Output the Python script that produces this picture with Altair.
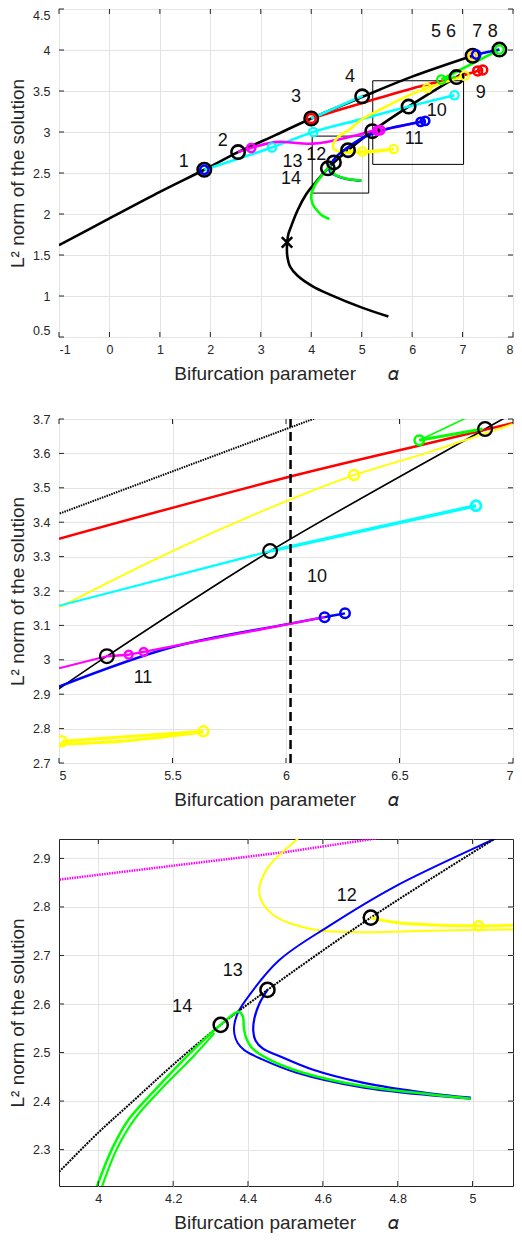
import altair as alt
import pandas as pd

FONT = "Liberation Sans"
AX = "#262626"
BLACK, RED, YEL, CYAN, BLUE, GREEN, MAG = "#000000", "#ff0000", "#ffff00", "#00ffff", "#0000ff", "#00ff00", "#ff00ff"

XTITLE = "Bifurcation parameter" + "\u00a0" * 6 + "\U0001D6FC"
YTITLE = "L\u00b2 norm of the solution"

# ---------------- panel 1 (overview) ----------------
P1_XDOM, P1_YDOM = [-1, 8], [0.5, 4.5]
P1_XTICKS = [-1, 0, 1, 2, 3, 4, 5, 6, 7, 8]
P1_YTICKS = [0.5, 1, 1.5, 2, 2.5, 3, 3.5, 4, 4.5]

P1_BLACK_MAIN_X = [-1.0, 0.0, 1.0, 1.88, 2.55, 3.3, 4.0, 5.0, 6.0, 7.2]
P1_BLACK_MAIN_Y = [1.62, 1.946, 2.27, 2.54, 2.755, 2.965, 3.165, 3.425, 3.675, 3.93]
P1_BLACK_FOLD_X = [5.53, 5.02, 4.36, 4.03, 3.73, 3.58, 3.525, 3.52, 3.545, 3.60, 3.73, 3.90, 4.03, 4.33, 4.45, 4.73, 5.21, 5.93, 6.88, 7.05]
P1_BLACK_FOLD_Y = [0.75, 0.855, 1.02, 1.118, 1.247, 1.36, 1.49, 1.62, 1.75, 1.846, 2.046, 2.24, 2.345, 2.557, 2.629, 2.778, 3.01, 3.31, 3.67, 3.73]
P1_FOLD_MARK_X, P1_FOLD_MARK_Y = [3.52], [1.655]
P1_CYAN_A_X = [1.88, 3.22, 4.04, 5.0, 5.93, 6.84]
P1_CYAN_A_Y = [2.54, 2.812, 3.0, 3.157, 3.31, 3.448]
P1_CYAN_B_X, P1_CYAN_B_Y = [4.0, 5.02], [3.165, 3.44]
P1_RED_X = [4.0, 5.0, 6.0, 6.59, 7.01, 7.30, 7.40]
P1_RED_Y = [3.165, 3.352, 3.53, 3.623, 3.69, 3.745, 3.757]
P1_MAG_X = [2.55, 2.81, 3.1, 3.37, 3.70, 3.9, 4.03, 4.36, 4.69, 5.0, 5.21, 5.35, 6.17]
P1_MAG_Y = [2.755, 2.805, 2.855, 2.88, 2.865, 2.857, 2.858, 2.885, 2.93, 2.975, 3.013, 3.02, 3.124]
P1_YEL_A_X = [7.04, 6.63, 6.30, 6.0, 5.5, 5.0, 4.76, 4.532, 4.456, 4.43, 4.465, 4.572, 4.706, 4.884, 5.116, 5.4, 5.64]
P1_YEL_A_Y = [3.685, 3.604, 3.537, 3.465, 3.316, 3.152, 3.03, 2.94, 2.88, 2.829, 2.785, 2.754, 2.748, 2.751, 2.754, 2.77, 2.79]
P1_YEL_B_X, P1_YEL_B_Y = [4.73, 4.795, 5.016, 5.636], [2.778, 2.768, 2.761, 2.792]
P1_BLUE_A_X, P1_BLUE_A_Y = [7.27, 7.73], [3.945, 4.005]
P1_BLUE_B_X = [4.995, 4.884, 4.706, 4.528, 4.438, 4.39, 4.372, 4.364, 4.363, 4.394, 4.483, 4.617, 4.795, 5.058, 5.5, 6.0, 6.17, 6.26]
P1_BLUE_B_Y = [2.405, 2.412, 2.428, 2.459, 2.486, 2.505, 2.52, 2.54, 2.561, 2.608, 2.69, 2.761, 2.843, 2.94, 3.037, 3.103, 3.124, 3.135]
P1_GREEN_A_X = [4.36, 4.22, 4.12, 4.03, 4.0, 4.01, 4.037, 4.082, 4.153, 4.242, 4.322, 4.375, 4.39, 4.403, 4.456, 4.545, 4.706, 4.884, 4.995]
P1_GREEN_A_Y = [1.94, 1.98, 2.04, 2.12, 2.2, 2.26, 2.302, 2.363, 2.424, 2.496, 2.554, 2.584, 2.55, 2.52, 2.486, 2.459, 2.431, 2.414, 2.405]
P1_GREEN_B_X, P1_GREEN_B_Y = [6.58, 7.73], [3.64, 4.005]
P1_GREEN_C_X, P1_GREEN_C_Y = [6.58, 6.87], [3.64, 3.67]

P1_BLACK_CIRC_X = [1.88, 2.55, 4.0, 5.01, 7.2, 7.73, 4.33, 4.45, 4.73, 5.21, 5.93, 6.88]
P1_BLACK_CIRC_Y = [2.54, 2.755, 3.165, 3.435, 3.93, 4.005, 2.557, 2.629, 2.778, 3.01, 3.31, 3.67]
P1_CYAN_CIRC_X, P1_CYAN_CIRC_Y = [3.22, 4.04, 6.84], [2.812, 3.0, 3.448]
P1_RED_CIRC_X, P1_RED_CIRC_Y = [4.0, 7.30, 7.40], [3.165, 3.745, 3.757]
P1_MAG_CIRC_X, P1_MAG_CIRC_Y = [2.81, 5.31, 5.37, 7.2], [2.805, 3.015, 3.023, 3.93]
P1_YEL_CIRC_X, P1_YEL_CIRC_Y = [6.30, 7.04, 5.016, 5.636, 7.2], [3.537, 3.685, 2.761, 2.792, 3.93]
P1_BLUE_CIRC_X, P1_BLUE_CIRC_Y = [1.88, 7.27, 6.17, 6.26], [2.54, 3.945, 3.124, 3.135]
P1_GREEN_CIRC_X, P1_GREEN_CIRC_Y = [6.58, 7.73], [3.64, 4.005]

P1_LABELS = ["1", "2", "3", "4", "5", "6", "7", "8", "9", "10", "11", "12", "13", "14"]
P1_LABEL_X = [1.474, 2.245, 3.70, 4.77, 6.474, 6.77, 7.29, 7.60, 7.36, 6.49, 6.04, 4.10, 3.63, 3.60]
P1_LABEL_Y = [2.632, 2.893, 3.425, 3.673, 4.216, 4.216, 4.216, 4.216, 3.477, 3.253, 2.917, 2.722, 2.63, 2.43]

P1_BOX_X1, P1_BOX_X2 = [4.02, 5.22], [5.14, 7.02]
P1_BOX_Y1, P1_BOX_Y2 = [2.255, 2.605], [2.95, 3.625]

# ---------------- panel 2 (zoom 5..7) ----------------
P2_XDOM, P2_YDOM = [5, 7], [2.7, 3.7]
P2_XTICKS = [5, 5.5, 6, 6.5, 7]
P2_YTICKS = [2.7, 2.8, 2.9, 3, 3.1, 3.2, 3.3, 3.4, 3.5, 3.6, 3.7]

P2_BLACK_MAIN_X, P2_BLACK_MAIN_Y = [4.9, 6.2], [3.40, 3.72]
P2_BLACK_FOLD_X = [4.95, 5.211, 5.93, 6.877, 7.05]
P2_BLACK_FOLD_Y = [2.893, 3.0105, 3.316, 3.671, 3.735]
P2_DASH_X, P2_DASH_Y = [6.02, 6.02], [2.7, 3.7]
P2_RED_X, P2_RED_Y = [5.0, 6.015, 6.587, 7.01], [3.352, 3.532, 3.623, 3.69]
P2_YEL_THIN_X = [5.0, 5.5, 6.015, 6.30, 6.63, 7.01]
P2_YEL_THIN_Y = [3.152, 3.316, 3.465, 3.537, 3.604, 3.688]
P2_GREEN_THICK_X, P2_GREEN_THICK_Y = [6.587, 6.866], [3.638, 3.671]
P2_GREEN_THIN_X, P2_GREEN_THIN_Y = [6.587, 6.80], [3.638, 3.705]
P2_CYAN_THIN_X, P2_CYAN_THIN_Y = [5.0, 5.93], [3.157, 3.316]
P2_CYAN_THICK_X, P2_CYAN_THICK_Y = [5.93, 6.837], [3.316, 3.448]
P2_BLUE_X = [5.0, 5.5, 6.0, 6.17, 6.26]
P2_BLUE_Y = [2.922, 3.037, 3.103, 3.124, 3.135]
P2_MAG_THIN_X, P2_MAG_THIN_Y = [5.0, 5.211], [2.975, 3.0105]
P2_MAG_X, P2_MAG_Y = [5.211, 5.307, 5.373, 6.17], [3.0105, 3.015, 3.023, 3.124]
P2_YEL_LOW_A_X, P2_YEL_LOW_A_Y = [5.012, 5.636], [2.763, 2.792]
P2_YEL_LOW_B_X, P2_YEL_LOW_B_Y = [5.0, 5.3, 5.636], [2.755, 2.765, 2.79]

P2_BLACK_CIRC_X, P2_BLACK_CIRC_Y = [5.211, 5.93, 6.877], [3.0105, 3.316, 3.671]
P2_YEL_CIRC_X, P2_YEL_CIRC_Y = [6.30, 5.012, 5.636], [3.537, 2.763, 2.792]
P2_GREEN_CIRC_X, P2_GREEN_CIRC_Y = [6.587], [3.638]
P2_CYAN_CIRC_X, P2_CYAN_CIRC_Y = [6.837], [3.448]
P2_BLUE_CIRC_X, P2_BLUE_CIRC_Y = [6.17, 6.26], [3.124, 3.135]
P2_MAG_CIRC_X, P2_MAG_CIRC_Y = [5.307, 5.373], [3.015, 3.023]

P2_LABELS, P2_LABEL_X, P2_LABEL_Y = ["10", "11"], [6.137, 5.37], [3.242, 2.948]

# ---------------- panel 3 (zoom 4..5) ----------------
P3_XDOM, P3_YDOM = [3.895, 5.108], [2.225, 2.94]
P3_XTICKS = [4, 4.2, 4.4, 4.6, 4.8, 5]
P3_YTICKS = [2.3, 2.4, 2.5, 2.6, 2.7, 2.8, 2.9]

P3_MAG_X, P3_MAG_Y = [3.85, 4.2, 4.5, 4.8], [2.852, 2.885, 2.913, 2.948]
P3_YEL_THIN_X = [4.56, 4.532, 4.452, 4.43, 4.465, 4.572, 4.706, 4.884, 5.13]
P3_YEL_THIN_Y = [2.96, 2.94, 2.88, 2.829, 2.785, 2.754, 2.748, 2.751, 2.754]
P3_YEL_THICK_X, P3_YEL_THICK_Y = [4.728, 4.795, 5.016, 5.13], [2.778, 2.768, 2.761, 2.763]
P3_BLUE_OUT_X = [5.1, 5.058, 4.795, 4.617, 4.483, 4.394, 4.372, 4.363, 4.364, 4.372, 4.39, 4.438, 4.528, 4.706, 4.884, 4.995]
P3_BLUE_OUT_Y = [2.955, 2.94, 2.843, 2.761, 2.69, 2.608, 2.58, 2.555, 2.537, 2.52, 2.505, 2.486, 2.459, 2.428, 2.412, 2.405]
P3_BLUE_IN_X = [4.452, 4.43, 4.417, 4.414, 4.42, 4.44, 4.483, 4.572, 4.706, 4.884, 4.995]
P3_BLUE_IN_Y = [2.629, 2.6, 2.57, 2.545, 2.525, 2.508, 2.493, 2.465, 2.438, 2.416, 2.407]
P3_BLACK_X = [3.89, 4.0, 4.1, 4.2, 4.327, 4.452, 4.728, 5.058, 5.12]
P3_BLACK_Y = [2.25, 2.335, 2.405, 2.475, 2.557, 2.629, 2.778, 2.94, 2.97]
P3_GREEN_A_X = [3.992, 4.037, 4.082, 4.153, 4.242, 4.322, 4.375, 4.386, 4.389, 4.395, 4.41, 4.456, 4.545, 4.706, 4.884, 4.995]
P3_GREEN_A_Y = [2.215, 2.302, 2.363, 2.424, 2.496, 2.554, 2.584, 2.575, 2.55, 2.53, 2.51, 2.486, 2.459, 2.431, 2.414, 2.405]
P3_GREEN_B_X = [4.006, 4.05, 4.097, 4.167, 4.255, 4.31]
P3_GREEN_B_Y = [2.215, 2.302, 2.363, 2.424, 2.493, 2.54]

P3_BLACK_CIRC_X, P3_BLACK_CIRC_Y = [4.327, 4.452, 4.728], [2.557, 2.629, 2.778]
P3_YEL_CIRC_X, P3_YEL_CIRC_Y = [5.016], [2.761]

P3_LABELS, P3_LABEL_X, P3_LABEL_Y = ["12", "13", "14"], [4.664, 4.359, 4.224], [2.822, 2.667, 2.593]

PANEL_W = 454
PANEL_H = [328, 344, 347]


def xy(xs, ys):
    return pd.DataFrame({"x": xs, "y": ys, "i": list(range(len(xs)))})


class Panel:
    def __init__(self, xdom, ydom, xticks, yticks, w, h, xflush=False, yflush=False):
        self.xdom, self.ydom, self.xticks, self.yticks = xdom, ydom, xticks, yticks
        self.w, self.h, self.xflush, self.yflush = w, h, xflush, yflush
        self.layers = []

    def X(self, field="x"):
        return alt.X(f"{field}:Q", scale=alt.Scale(domain=self.xdom, nice=False, zero=False),
                     axis=alt.Axis(values=self.xticks, title=XTITLE, grid=True, ticks=False,
                                   domain=False, labelFlush=self.xflush, labelPadding=6,
                                   labelExpr="'' + datum.value"))

    def Y(self, field="y"):
        return alt.Y(f"{field}:Q", scale=alt.Scale(domain=self.ydom, nice=False, zero=False),
                     axis=alt.Axis(values=self.yticks, title=YTITLE, grid=True, ticks=False,
                                   domain=False, labelFlush=self.yflush, labelPadding=9,
                                   labelExpr="'' + datum.value"))

    def line(self, xs, ys, color, width, dash=None, interp="linear"):
        kw = dict(color=color, strokeWidth=width, interpolate=interp, clip=True, strokeJoin="round")
        if dash is not None:
            kw["strokeDash"] = dash
        self.layers.append(alt.Chart(xy(xs, ys)).mark_line(**kw).encode(
            x=self.X(), y=self.Y(), order="i:Q"))

    def circles(self, xs, ys, color, size, sw):
        self.layers.append(alt.Chart(xy(xs, ys)).mark_point(
            shape="circle", filled=False, color=color, size=size, strokeWidth=sw, opacity=1, clip=True
        ).encode(x=self.X(), y=self.Y()))

    def labels(self, texts, xs, ys, size=18):
        df = pd.DataFrame({"x": xs, "y": ys, "t": texts})
        self.layers.append(alt.Chart(df).mark_text(
            font=FONT, fontSize=size, color="#111111", align="center", baseline="middle"
        ).encode(x=self.X(), y=self.Y(), text="t:N"))

    def boxes(self, x1, x2, y1, y2):
        df = pd.DataFrame({"x": x1, "x2": x2, "y": y1, "y2": y2})
        self.layers.append(alt.Chart(df).mark_rect(
            fillOpacity=0, stroke="#000000", strokeWidth=1
        ).encode(x=self.X(), x2="x2:Q", y=self.Y(), y2="y2:Q"))

    def build(self):
        # MATLAB style inward ticks on all four sides
        tx = pd.DataFrame({"x": self.xticks})
        ty = pd.DataFrame({"y": self.yticks})
        tick = dict(color=AX, strokeWidth=1)
        ticks = [
            alt.Chart(tx).mark_rule(**tick).encode(x=self.X(), y=alt.value(self.h), y2=alt.value(self.h - 5)),
            alt.Chart(tx).mark_rule(**tick).encode(x=self.X(), y=alt.value(0), y2=alt.value(5)),
            alt.Chart(ty).mark_rule(**tick).encode(y=self.Y(), x=alt.value(0), x2=alt.value(5)),
            alt.Chart(ty).mark_rule(**tick).encode(y=self.Y(), x=alt.value(self.w), x2=alt.value(self.w - 5)),
        ]
        return alt.layer(*(self.layers + ticks)).properties(width=self.w, height=self.h)


CR = "catmull-rom"

# ---- build panel 1 ----
p1 = Panel(P1_XDOM, P1_YDOM, P1_XTICKS, P1_YTICKS, PANEL_W, PANEL_H[0], xflush=True, yflush=True)
p1.boxes(P1_BOX_X1, P1_BOX_X2, P1_BOX_Y1, P1_BOX_Y2)
p1.line(P1_BLACK_MAIN_X, P1_BLACK_MAIN_Y, BLACK, 2.6, interp=CR)
p1.line(P1_BLACK_FOLD_X, P1_BLACK_FOLD_Y, BLACK, 2.6, interp=CR)
p1.line(P1_CYAN_A_X, P1_CYAN_A_Y, CYAN, 2.6, interp=CR)
p1.line(P1_RED_X, P1_RED_Y, RED, 2.6, interp=CR)
p1.line(P1_CYAN_B_X, P1_CYAN_B_Y, CYAN, 2.6)
p1.line(P1_MAG_X, P1_MAG_Y, MAG, 2.6, interp=CR)
p1.line(P1_YEL_A_X, P1_YEL_A_Y, YEL, 2.6, interp=CR)
p1.line(P1_YEL_B_X, P1_YEL_B_Y, YEL, 2.6, interp=CR)
p1.line(P1_BLUE_B_X, P1_BLUE_B_Y, BLUE, 2.6, interp=CR)
p1.line(P1_GREEN_A_X, P1_GREEN_A_Y, GREEN, 2.6, interp=CR)
p1.line(P1_GREEN_B_X, P1_GREEN_B_Y, GREEN, 2.6)
p1.line(P1_GREEN_C_X, P1_GREEN_C_Y, GREEN, 2.6)
p1.line(P1_BLUE_A_X, P1_BLUE_A_Y, BLUE, 2.6)
p1.circles(P1_BLACK_CIRC_X, P1_BLACK_CIRC_Y, BLACK, 180, 2.6)
p1.circles(P1_CYAN_CIRC_X, P1_CYAN_CIRC_Y, CYAN, 70, 2.2)
p1.circles(P1_RED_CIRC_X, P1_RED_CIRC_Y, RED, 80, 2.5)
p1.circles(P1_MAG_CIRC_X, P1_MAG_CIRC_Y, MAG, 70, 2.5)
p1.circles(P1_YEL_CIRC_X, P1_YEL_CIRC_Y, YEL, 70, 2.2)
p1.circles(P1_BLUE_CIRC_X, P1_BLUE_CIRC_Y, BLUE, 70, 2.5)
p1.circles(P1_GREEN_CIRC_X, P1_GREEN_CIRC_Y, GREEN, 70, 2.2)
p1.layers.append(alt.Chart(xy(P1_FOLD_MARK_X, P1_FOLD_MARK_Y)).mark_point(
    shape="M-1,-1L1,1M-1,1L1,-1", filled=False, color=BLACK, size=110, strokeWidth=2.5, opacity=1
).encode(x=p1.X(), y=p1.Y()))
p1.labels(P1_LABELS, P1_LABEL_X, P1_LABEL_Y)

# ---- build panel 2 ----
p2 = Panel(P2_XDOM, P2_YDOM, P2_XTICKS, P2_YTICKS, PANEL_W, PANEL_H[1], xflush=True)
p2.line(P2_BLACK_MAIN_X, P2_BLACK_MAIN_Y, BLACK, 2, dash=[1.5, 1])
p2.line(P2_BLACK_FOLD_X, P2_BLACK_FOLD_Y, BLACK, 1.6, interp=CR)
p2.line(P2_RED_X, P2_RED_Y, RED, 2.5, interp=CR)
p2.line(P2_YEL_THIN_X, P2_YEL_THIN_Y, YEL, 1.8, interp=CR)
p2.line(P2_GREEN_THIN_X, P2_GREEN_THIN_Y, GREEN, 1.6)
p2.line(P2_GREEN_THICK_X, P2_GREEN_THICK_Y, GREEN, 3)
p2.line(P2_CYAN_THIN_X, P2_CYAN_THIN_Y, CYAN, 2.2)
p2.line(P2_CYAN_THICK_X, P2_CYAN_THICK_Y, CYAN, 3.5)
p2.line(P2_BLUE_X, P2_BLUE_Y, BLUE, 2.5, interp=CR)
p2.line(P2_MAG_THIN_X, P2_MAG_THIN_Y, MAG, 2)
p2.line(P2_MAG_X, P2_MAG_Y, MAG, 2.5)
p2.line(P2_YEL_LOW_A_X, P2_YEL_LOW_A_Y, YEL, 3)
p2.line(P2_YEL_LOW_B_X, P2_YEL_LOW_B_Y, YEL, 3, interp=CR)
p2.line(P2_DASH_X, P2_DASH_Y, BLACK, 2.5, dash=[9, 5])
p2.circles(P2_BLACK_CIRC_X, P2_BLACK_CIRC_Y, BLACK, 190, 2.2)
p2.circles(P2_YEL_CIRC_X, P2_YEL_CIRC_Y, YEL, 100, 2.5)
p2.circles(P2_GREEN_CIRC_X, P2_GREEN_CIRC_Y, GREEN, 90, 2.5)
p2.circles(P2_CYAN_CIRC_X, P2_CYAN_CIRC_Y, CYAN, 100, 2.8)
p2.circles(P2_BLUE_CIRC_X, P2_BLUE_CIRC_Y, BLUE, 90, 2.5)
p2.circles(P2_MAG_CIRC_X, P2_MAG_CIRC_Y, MAG, 60, 2.5)
p2.labels(P2_LABELS, P2_LABEL_X, P2_LABEL_Y)

# ---- build panel 3 ----
p3 = Panel(P3_XDOM, P3_YDOM, P3_XTICKS, P3_YTICKS, PANEL_W, PANEL_H[2])
p3.line(P3_MAG_X, P3_MAG_Y, MAG, 2.5, dash=[1.5, 1])
p3.line(P3_YEL_THIN_X, P3_YEL_THIN_Y, YEL, 2, interp=CR)
p3.line(P3_BLUE_OUT_X, P3_BLUE_OUT_Y, BLUE, 2, interp=CR)
p3.line(P3_BLUE_IN_X, P3_BLUE_IN_Y, BLUE, 2.2, interp=CR)
p3.line(P3_BLACK_X, P3_BLACK_Y, BLACK, 2, dash=[2, 1], interp=CR)
p3.line(P3_YEL_THICK_X, P3_YEL_THICK_Y, YEL, 3, interp=CR)
p3.line(P3_GREEN_B_X, P3_GREEN_B_Y, GREEN, 2.2, interp=CR)
p3.line(P3_GREEN_A_X, P3_GREEN_A_Y, GREEN, 2.5, interp=CR)
p3.circles(P3_BLACK_CIRC_X, P3_BLACK_CIRC_Y, BLACK, 200, 2.5)
p3.circles(P3_YEL_CIRC_X, P3_YEL_CIRC_Y, YEL, 90, 2.5)
p3.labels(P3_LABELS, P3_LABEL_X, P3_LABEL_Y)

chart = alt.vconcat(p1.build(), p2.build(), p3.build(), spacing=28).properties(
    padding={"left": 0, "top": 0, "right": 0, "bottom": 0}
).configure_view(
    stroke=AX, strokeWidth=1
).configure_axis(
    labelFont=FONT, labelFontSize=12.5, labelColor=AX,
    titleFont=FONT, titleFontSize=19, titleFontWeight="normal", titleColor=AX,
    gridColor="#e3e3e3", gridWidth=1,
).configure_axisY(titlePadding=5).configure_axisX(titlePadding=9)

chart.save("out.html", embed_options={"renderer": "svg", "actions": False})
